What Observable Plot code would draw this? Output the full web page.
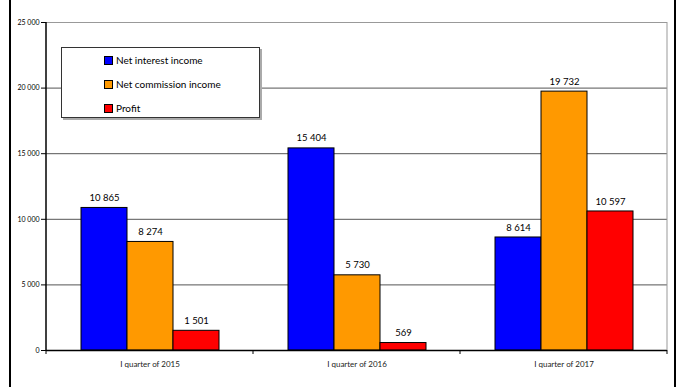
<!DOCTYPE html>
<html>
<head>
<meta charset="utf-8">
<script src="https://cdn.jsdelivr.net/npm/d3@7"></script>
<script src="https://cdn.jsdelivr.net/npm/@observablehq/plot@0.6"></script>
<style>
  html, body { margin: 0; padding: 0; background: white; }
  #wrap { position: relative; width: 682px; height: 387px; font-family: Lato, "Open Sans", sans-serif; }
  #border { position: absolute; left: 9px; top: 0; width: 667px; height: 387px; border-left: 2px solid #000; border-right: 2px solid #000; box-sizing: border-box; pointer-events: none; }
  #legend { position: absolute; left: 61px; top: 47px; width: 199px; height: 71px; background: white; border: 1px solid #333; box-shadow: 2px 2px 0 #aaa; box-sizing: border-box; font-size: 10px; color: #000; }
  #legend .item { position: absolute; left: 42px; display: flex; align-items: center; white-space: nowrap; }
  #legend .sw { width: 7px; height: 7px; border: 1px solid #000; margin-right: 3px; }
</style>
</head>
<body>
<div id="wrap"><div id="chart"></div><div id="legend"></div><div id="border"></div></div>
<script>
const categories = ["I quarter of 2015", "I quarter of 2016", "I quarter of 2017"];
const seriesNames = ["Net interest income", "Net commission income", "Profit"];
const netInterest = [10865, 15404, 8614];
const netCommission = [8274, 5730, 19732];
const profit = [1501, 569, 10597];
const colors = ["#0000ff", "#ff9900", "#ff0000"];
const yTicks = [0, 5000, 10000, 15000, 20000, 25000];

const seriesValues = [netInterest, netCommission, profit];
const data = categories.flatMap((c, i) => seriesNames.map((s, j) => ({cat: c, series: s, value: seriesValues[j][i]})));
const fmt = d => d3.format(",")(d).replace(/,/g, " ");

const W = 682, H = 387, mL = 45, mR = 14, mT = 22, mB = 37;

const chart = Plot.plot({
  width: W, height: H,
  marginLeft: mL, marginRight: mR, marginTop: mT, marginBottom: mB,
  style: {fontFamily: "Lato, 'Open Sans', sans-serif", background: "white", overflow: "visible"},
  fx: {domain: categories, padding: 0, label: null, axis: null},
  x: {domain: seriesNames, paddingInner: 0, paddingOuter: 0.74, axis: null},
  y: {domain: [0, 25000], label: null, axis: null},
  color: {domain: seriesNames, range: colors},
  marks: [
    Plot.ruleY(yTicks.slice(1, -1), {stroke: "#555", strokeWidth: 1}),
    Plot.ruleY([25000], {stroke: "#999", strokeWidth: 1}),
    Plot.barY(data, {fx: "cat", x: "series", y: "value", fill: "series", stroke: "#000", strokeWidth: 1}),
    Plot.text(data, {fx: "cat", x: "series", y: "value", text: d => fmt(d.value), dy: -10, fontSize: 9.5, fill: "#000"}),
    Plot.ruleY([0], {stroke: "#000", strokeWidth: 1.5}),
    Plot.axisY(yTicks, {tickFormat: fmt, tickSize: 5, tickPadding: 2, fontSize: 7, label: null, anchor: "left"}),
    Plot.axisFx({tickSize: 0, tickPadding: 11, fontSize: 8, label: null, anchor: "bottom", fill: "#222"})
  ]
});
document.getElementById("chart").appendChild(chart);

// Frame lines and category boundary ticks drawn from the plot's own scales
const ys = chart.scale("y");
const fxs = chart.scale("fx");
const y0 = ys.apply(0), yTop = ys.apply(25000);
const svg = d3.select(chart);
const g = svg.append("g");
const firstX = fxs.apply(categories[0]);
const lastX = fxs.apply(categories[categories.length - 1]) + fxs.bandwidth;
g.append("line").attr("x1", firstX).attr("x2", firstX).attr("y1", yTop).attr("y2", y0 + 0.5).attr("stroke", "#000").attr("stroke-width", 1.5);
g.append("line").attr("x1", lastX).attr("x2", lastX).attr("y1", yTop).attr("y2", y0).attr("stroke", "#999");
const bounds = categories.map(c => fxs.apply(c)).concat([lastX]);
bounds.forEach(b => g.append("line").attr("x1", b).attr("x2", b).attr("y1", y0).attr("y2", y0 + 4).attr("stroke", "#000"));

// Legend
const leg = document.getElementById("legend");
seriesNames.forEach((s, i) => {
  const it = document.createElement("div");
  it.className = "item";
  it.style.top = (6 + i * 24) + "px";
  it.innerHTML = `<span class="sw" style="background:${colors[i]}"></span><span>${s}</span>`;
  leg.appendChild(it);
});
</script>
</body>
</html>
